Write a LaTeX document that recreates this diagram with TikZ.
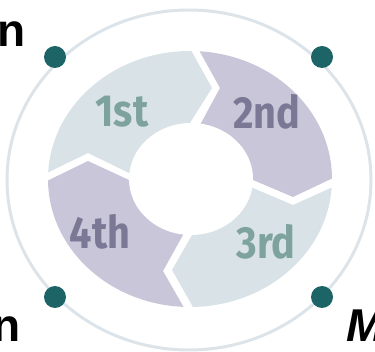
\documentclass[tikz,border=0pt]{standalone}
\usepackage{fontspec}
\setmainfont{Liberation Sans}
\newfontfamily\segfont{Fira Sans}
\definecolor{segA}{HTML}{D9E2E7}
\definecolor{segB}{HTML}{C8C6D8}
\definecolor{txtA}{HTML}{7EA39F}
\definecolor{txtB}{HTML}{7B7896}
\definecolor{ringc}{HTML}{DDE4E9}
\definecolor{dotc}{HTML}{1D6467}
\tikzset{
  dotnode/.style={circle,fill=dotc,minimum size=22pt,inner sep=0pt},
  seglabel/.style={inner sep=0pt,font=\segfont\bfseries\fontsize{45}{45}\selectfont,xscale=0.88},
  sidelabel/.style={inner sep=0pt,font=\bfseries\fontsize{46}{46}\selectfont}
}
\begin{document}
\begin{tikzpicture}[x=1pt,y=-1pt]
\useasboundingbox (0,0) rectangle (375,352);
\clip (0,0) rectangle (375,352);
\coordinate (C) at (190,179);
% outer thin ring
\draw[ringc,line width=3pt] (189,180) ellipse [x radius=182pt, y radius=170pt];
% segments
\begin{scope}
\clip (190,179) ellipse [x radius=142pt, y radius=128pt];
\fill[segA] (C) -- (129,173) -- (88,153) -- (49,172) -- (10,191) -- (10,10) -- (176,22) -- (192,52) -- (212,88) -- (190,123) -- cycle;
\fill[segB] (C) -- (200,125) -- (220,88) -- (200,52) -- (189,32) -- (370,10) -- (373,159) -- (333,178) -- (293,197) -- (253,180) -- cycle;
\fill[segA] (C) -- (253,188) -- (293,205) -- (333,187) -- (373,168) -- (373,345) -- (204,327) -- (193,307) -- (172,270) -- (192,235) -- cycle;
\fill[segB] (C) -- (183,235) -- (163,271) -- (183,306) -- (194,326) -- (10,345) -- (10,199) -- (49,180) -- (88,161) -- (129,180) -- cycle;
\end{scope}
\fill[white] (191,179) ellipse [x radius=62pt, y radius=56pt];
% labels
\node[seglabel,text=txtA] (l1) at (122,112) {1st};
\node[seglabel,text=txtB] (l2) at (267,112) {2nd};
\node[seglabel,text=txtA] (l3) at (266,242) {3rd};
\node[seglabel,text=txtB] (l4) at (100,232) {4th};
% dots
\node[dotnode] (d1) at (55,57) {};
\node[dotnode] (d2) at (322,57) {};
\node[dotnode] (d3) at (55,297) {};
\node[dotnode] (d4) at (322,297) {};
% side texts
\node[sidelabel,anchor=base east] (t1) at (26,47) {n};
\node[sidelabel,anchor=base east] (t2) at (21,342) {n};
\node[sidelabel,anchor=base west,font=\bfseries\itshape\fontsize{46}{46}\selectfont] (t3) at (346,342) {M};
\end{tikzpicture}
\end{document}
